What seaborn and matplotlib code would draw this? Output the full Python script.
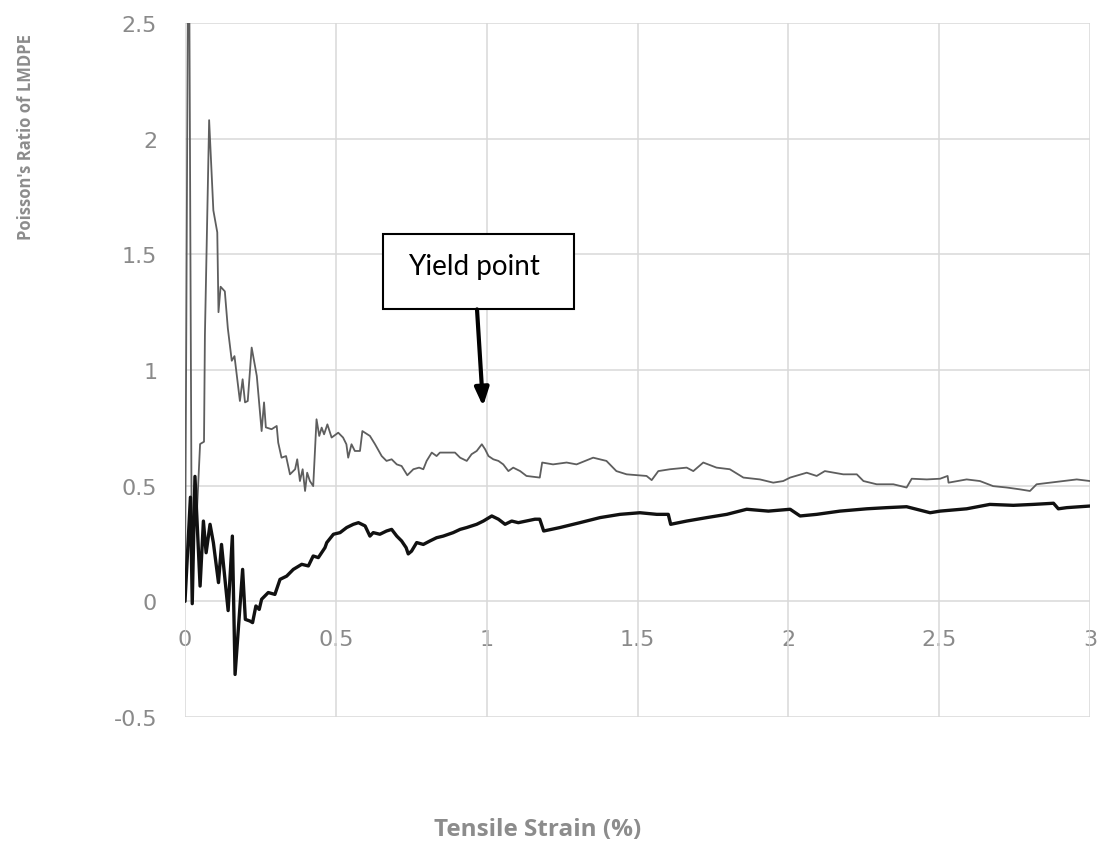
import matplotlib
matplotlib.use("Agg")
import matplotlib.pyplot as plt
from matplotlib.patches import Rectangle
import numpy as np
import pandas as pd
import seaborn as sns

# Poisson's ratio of LMDPE vs tensile strain (%), two measurement traces
strain_upper = [0.000, 0.012, 0.022, 0.040, 0.050, 0.063, 0.066, 0.080, 0.094, 0.107,
                0.111, 0.118, 0.132, 0.142, 0.155, 0.164, 0.182, 0.191, 0.199, 0.208,
                0.221, 0.238, 0.254, 0.262, 0.268, 0.287, 0.304, 0.309, 0.320, 0.335,
                0.348, 0.365, 0.372, 0.381, 0.390, 0.398, 0.405, 0.414, 0.425, 0.436,
                0.445, 0.453, 0.461, 0.472, 0.486, 0.508, 0.524, 0.535, 0.541, 0.552,
                0.563, 0.580, 0.588, 0.613, 0.630, 0.652, 0.668, 0.685, 0.702, 0.718,
                0.737, 0.757, 0.776, 0.790, 0.801, 0.818, 0.834, 0.845, 0.867, 0.895,
                0.912, 0.934, 0.950, 0.967, 0.984, 0.995, 1.006, 1.022, 1.039, 1.055,
                1.072, 1.088, 1.111, 1.132, 1.176, 1.184, 1.220, 1.265, 1.298, 1.353,
                1.397, 1.430, 1.464, 1.530, 1.547, 1.569, 1.608, 1.663, 1.685, 1.718,
                1.762, 1.806, 1.851, 1.906, 1.950, 1.983, 2.006, 2.061, 2.094, 2.121,
                2.182, 2.227, 2.249, 2.293, 2.348, 2.392, 2.409, 2.459, 2.503, 2.528,
                2.531, 2.591, 2.635, 2.679, 2.724, 2.768, 2.801, 2.823, 2.867, 2.911,
                2.956, 3.000]
ratio_upper = [0.00, 3.30, 0.30, 0.40, 0.68, 0.69, 1.15, 2.08, 1.69, 1.595,
               1.25, 1.36, 1.34, 1.18, 1.04, 1.06, 0.866, 0.96, 0.86, 0.866,
               1.097, 0.974, 0.736, 0.86, 0.752, 0.744, 0.758, 0.686, 0.621, 0.628,
               0.549, 0.571, 0.614, 0.52, 0.571, 0.477, 0.556, 0.52, 0.498, 0.787,
               0.715, 0.751, 0.722, 0.765, 0.708, 0.729, 0.708, 0.679, 0.621, 0.679,
               0.65, 0.65, 0.736, 0.715, 0.679, 0.628, 0.607, 0.614, 0.592, 0.585,
               0.545, 0.571, 0.578, 0.571, 0.607, 0.643, 0.628, 0.643, 0.643, 0.643,
               0.621, 0.607, 0.636, 0.65, 0.679, 0.657, 0.628, 0.614, 0.607, 0.592,
               0.563, 0.578, 0.563, 0.542, 0.535, 0.60, 0.592, 0.60, 0.592, 0.621,
               0.607, 0.563, 0.549, 0.542, 0.524, 0.563, 0.571, 0.578, 0.563, 0.60,
               0.578, 0.571, 0.535, 0.527, 0.513, 0.52, 0.535, 0.556, 0.542, 0.563,
               0.549, 0.549, 0.52, 0.506, 0.506, 0.492, 0.53, 0.527, 0.53, 0.542,
               0.513, 0.527, 0.52, 0.498, 0.492, 0.484, 0.477, 0.506, 0.513, 0.52,
               0.527, 0.52]

strain_lower = [0.000, 0.018, 0.024, 0.033, 0.050, 0.061, 0.070, 0.083, 0.094, 0.111,
                0.121, 0.128, 0.143, 0.157, 0.166, 0.191, 0.200, 0.215, 0.224, 0.235,
                0.246, 0.254, 0.276, 0.298, 0.315, 0.337, 0.359, 0.387, 0.409, 0.425,
                0.442, 0.464, 0.470, 0.492, 0.514, 0.536, 0.558, 0.575, 0.597, 0.613,
                0.624, 0.646, 0.668, 0.685, 0.702, 0.718, 0.733, 0.740, 0.751, 0.768,
                0.790, 0.812, 0.834, 0.856, 0.889, 0.912, 0.934, 0.967, 0.989, 1.017,
                1.039, 1.061, 1.083, 1.105, 1.160, 1.176, 1.189, 1.243, 1.309, 1.376,
                1.442, 1.508, 1.564, 1.602, 1.610, 1.663, 1.730, 1.796, 1.862, 1.934,
                2.006, 2.039, 2.094, 2.171, 2.260, 2.326, 2.392, 2.470, 2.503, 2.591,
                2.668, 2.746, 2.812, 2.879, 2.895, 2.923, 3.000]
ratio_lower = [0.00, 0.45, -0.01, 0.54, 0.066, 0.347, 0.21, 0.333, 0.254, 0.081,
               0.246, 0.153, -0.04, 0.282, -0.316, 0.138, -0.078, -0.085, -0.092, -0.02,
               -0.035, 0.009, 0.038, 0.03, 0.095, 0.109, 0.138, 0.16, 0.153, 0.196,
               0.189, 0.232, 0.254, 0.29, 0.297, 0.319, 0.333, 0.34, 0.326, 0.282,
               0.297, 0.29, 0.304, 0.311, 0.282, 0.261, 0.232, 0.205, 0.217, 0.254,
               0.246, 0.261, 0.275, 0.282, 0.297, 0.311, 0.319, 0.333, 0.347, 0.369,
               0.355, 0.333, 0.347, 0.34, 0.355, 0.355, 0.304, 0.319, 0.34, 0.362,
               0.376, 0.383, 0.376, 0.376, 0.333, 0.347, 0.362, 0.376, 0.398, 0.39,
               0.398, 0.369, 0.376, 0.39, 0.40, 0.405, 0.409, 0.383, 0.39, 0.40,
               0.419, 0.415, 0.419, 0.424, 0.40, 0.405, 0.412]

x_ticks = [0, 0.5, 1, 1.5, 2, 2.5, 3]
x_tick_labels = ["0", "0.5", "1", "1.5", "2", "2.5", "3"]
y_ticks = [-0.5, 0, 0.5, 1, 1.5, 2, 2.5]
y_tick_labels = ["-0.5", "0", "0.5", "1", "1.5", "2", "2.5"]

x_label = "Tensile Strain (%)"
y_label = "Poisson's Ratio of LMDPE"
note_text = "Yield point"
# annotation anchors in data units
note_box = (0.656, 1.262, 0.634, 0.325)   # x, y, width, height
note_arrow_from = (0.968, 1.262)
note_arrow_to = (0.988, 0.843)

sns.set_theme(style="white")
plt.rcParams["font.family"] = ["DejaVu Sans"]

fig = plt.figure(figsize=(11.02, 8.45), dpi=100)
ax = fig.add_axes([185 / 1102, 1 - 718 / 845, 905 / 1102, 694 / 845])

upper = pd.DataFrame({"strain": strain_upper, "ratio": ratio_upper})
lower = pd.DataFrame({"strain": strain_lower, "ratio": ratio_lower})

sns.lineplot(data=upper, x="strain", y="ratio", ax=ax, sort=False, estimator=None,
             color="#5e5e5e", linewidth=1.3, zorder=3)
sns.lineplot(data=lower, x="strain", y="ratio", ax=ax, sort=False, estimator=None,
             color="#111111", linewidth=2.4, zorder=4)

ax.set_xlim(0, 3)
ax.set_ylim(-0.5, 2.5)
ax.set_xticks(x_ticks)
ax.set_xticklabels(x_tick_labels)
ax.set_yticks(y_ticks)
ax.set_yticklabels(y_tick_labels)
ax.set_xlabel("")
ax.set_ylabel("")

for v in x_ticks:
    ax.axvline(v, color="#d9d9d9", linewidth=1.1, zorder=1)
for v in y_ticks:
    ax.axhline(v, color="#d9d9d9", linewidth=1.1, zorder=1)

for side in ["top", "right", "left"]:
    ax.spines[side].set_visible(False)
ax.spines["bottom"].set_position(("data", 0))
ax.spines["bottom"].set_visible(False)
ax.tick_params(axis="x", length=0, pad=20, labelsize=16, labelcolor="#8a8a8a")
ax.tick_params(axis="y", length=0, pad=20, labelsize=16, labelcolor="#8a8a8a")

fig.text(26 / 1102, 1 - 137 / 845, y_label, rotation=90, ha="center", va="center",
         fontsize=12, fontweight="bold", color="#8c8c8c", family=["Open Sans", "DejaVu Sans"])
fig.text(538 / 1102, 1 - 830 / 845, x_label, ha="center", va="center",
         fontsize=17.5, fontweight="bold", color="#8c8c8c", family=["Open Sans", "DejaVu Sans"])

bx, by, bw, bh = note_box
ax.add_patch(Rectangle((bx, by), bw, bh, facecolor="white", edgecolor="black",
                       linewidth=1.5, zorder=6, clip_on=False))
ax.text(bx + bw * 0.475, by + bh * 0.47, note_text, ha="center", va="baseline",
        fontsize=20, color="black", family=["Lato", "DejaVu Sans"], zorder=7)
ax.annotate("", xy=note_arrow_to, xytext=note_arrow_from,
            arrowprops=dict(arrowstyle="-|>,head_length=0.9,head_width=0.35",
                            color="black", linewidth=3, shrinkA=0, shrinkB=0),
            zorder=7)

fig.savefig("out.png", dpi=100)
